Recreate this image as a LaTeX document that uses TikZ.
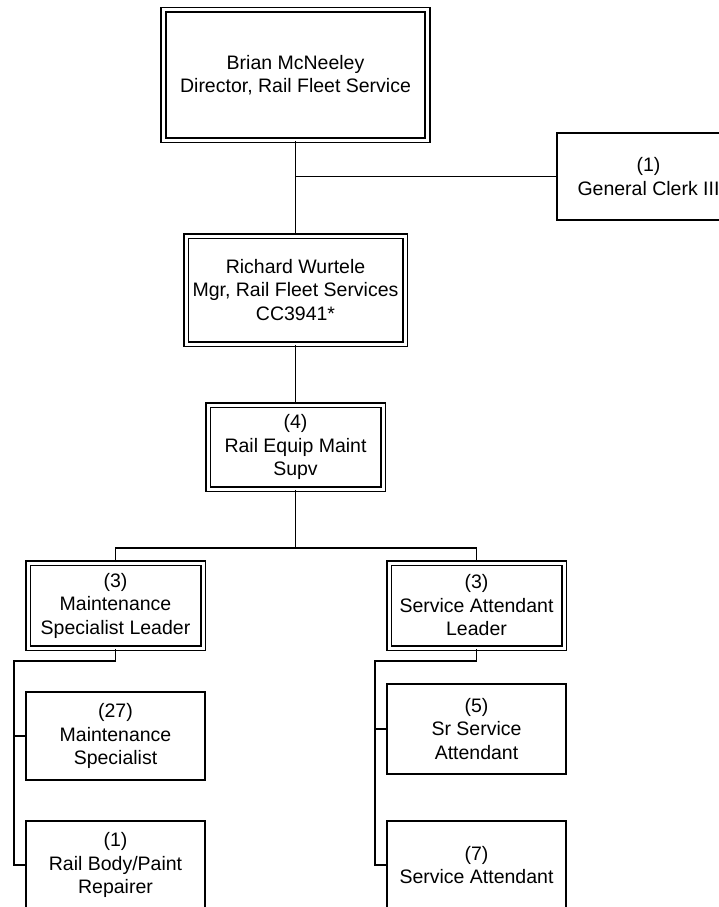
\documentclass[tikz,border=0pt]{standalone}
\usepackage{fontspec}
\setmainfont{Liberation Sans}

\begin{document}
\begin{tikzpicture}[x=1pt, y=-1pt, line width=1.9pt,
  font=\fontsize{19.5}{23.5}\selectfont,
  post/.style={draw, line width=1.8pt, align=center, inner sep=0pt},
  lead/.style={post, double, line width=1.6pt, double distance=3pt}]

  %--- page frame (the right and bottom boxes run off the page)
  \useasboundingbox (0,0) rectangle (719,907);
  \clip (0,0) rectangle (719,907);

  %--- top of the chart
  \node[lead, minimum width=264pt, minimum height=130pt] (dir) at (295.5,75)
    {Brian McNeeley\\Director, Rail Fleet Service};
  \node[post, minimum width=183pt, minimum height=87pt] (clerk) at (648.5,176.5)
    {(1)\\General Clerk III};
  \node[lead, minimum width=219pt, minimum height=108pt] (mgr) at (295.5,290)
    {Richard Wurtele\\Mgr, Rail Fleet Services\\CC3941*};
  \node[lead, minimum width=175pt, minimum height=84pt] (supv) at (295.5,447)
    {(4)\\Rail Equip Maint\\Supv};

  %--- leaders
  \node[lead, minimum width=175pt, minimum height=85pt] (msl) at (115.5,605.5)
    {(3)\\Maintenance\\Specialist Leader};
  \node[lead, minimum width=175pt, minimum height=85pt] (sal) at (476.5,605.5)
    {(3)\\Service Attendant\\Leader};

  %--- staff
  \node[post, minimum width=179pt, minimum height=88pt] (ms) at (115.5,736)
    {(27)\\Maintenance\\Specialist};
  \node[post, minimum width=179pt, minimum height=88pt] (rbp) at (115.5,865)
    {(1)\\Rail Body/Paint\\Repairer};
  \node[post, minimum width=179pt, minimum height=90pt] (ssa) at (476.5,729)
    {(5)\\Sr Service\\Attendant};
  \node[post, minimum width=179pt, minimum height=88pt] (sa) at (476.5,865)
    {(7)\\Service Attendant};

  %--- connectors
  \coordinate (bus) at (295.5,548);
  \coordinate (mslrail) at (14,661);
  \coordinate (salrail) at (375,661);

  \draw (dir.south) -- (mgr.north);
  \draw (dir.south |- clerk.west) -- (clerk.west);
  \draw (mgr.south) -- (supv.north);
  \draw (supv.south) -- (bus);
  \draw (msl.north) |- (bus) -| (sal.north);

  \draw (msl.south) |- (mslrail) |- (rbp.west);
  \draw (mslrail |- ms.west) -- (ms.west);
  \draw (sal.south) |- (salrail) |- (sa.west);
  \draw (salrail |- ssa.west) -- (ssa.west);

\end{tikzpicture}
\end{document}
